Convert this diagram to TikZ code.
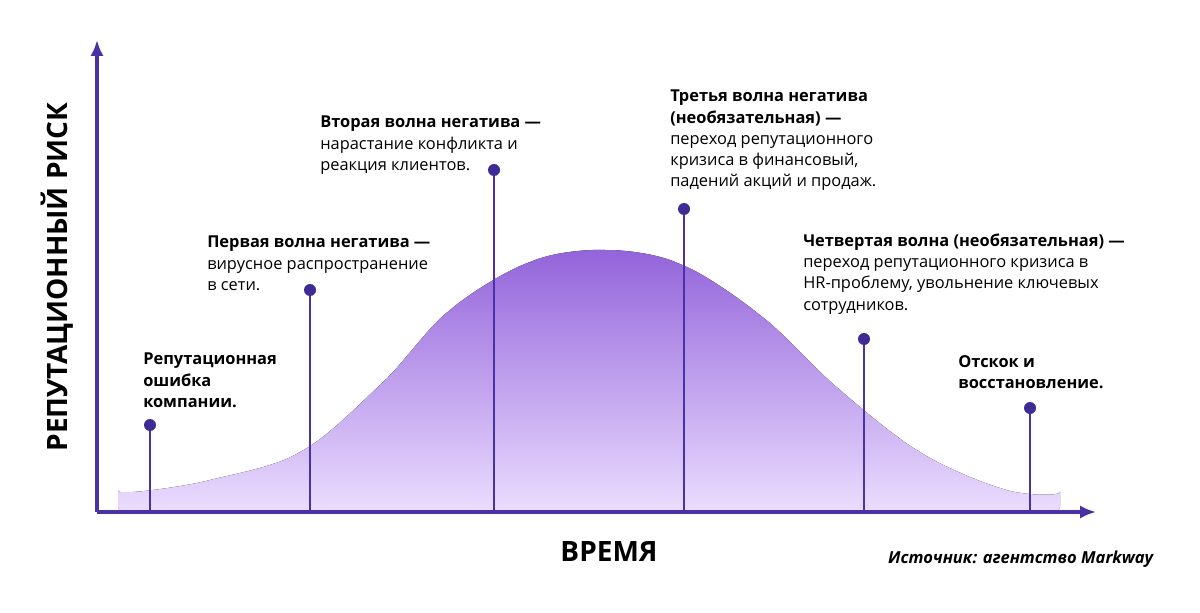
\documentclass[tikz,border=0pt]{standalone}
\usepackage{fontspec}
\usetikzlibrary{arrows.meta}
\setmainfont{Open Sans}
\definecolor{ax}{HTML}{4A32A6}
\definecolor{dotc}{HTML}{3F2A96}
\definecolor{ctop}{HTML}{9364DA}
\definecolor{cbot}{HTML}{EBDDFF}
\begin{document}
\begin{tikzpicture}[x=0.75pt,y=-0.75pt,
  lbl/.style={anchor=north west,align=left,inner sep=0pt,font=\fontsize{12.3}{15.8}\selectfont,text=black},
  stem/.style={draw=ax,line width=2pt},
  dotn/.style={circle,fill=dotc,inner sep=0pt,minimum size=9pt}]
\useasboundingbox (0,0) rectangle (1200,613);
\fill[top color=ctop,bottom color=cbot,rounded corners=4pt]
  plot[smooth,tension=0.55] coordinates {(118,496) (210,480) (300,452) (380,385) (450,310) (530,262) (605,250) (680,264) (760,315) (840,390) (920,452) (1000,488) (1060,497)}
  -- (1060,512) -- (118,512) -- cycle;
\coordinate (o) at (97,512);
\coordinate (ytop) at (97,40);
\coordinate (xend) at (1096,512);
\draw[ax,line width=2.6pt,-{Latex[length=12pt,width=10pt]}] (o) -- (ytop);
\draw[ax,line width=2.6pt,-{Latex[length=12pt,width=10pt]}] (o) -- (xend);
\foreach \i/\x/\y in {1/150/425,2/310/290,3/494/170,4/684/209,5/864/339,6/1030/408}{
  \coordinate (b\i) at (\x,512);
  \node[dotn] (d\i) at (\x,\y) {};
  \draw[stem] (b\i) -- (d\i);
}
\node[lbl] (t1) at (143,353) {\textbf{Репутационная}\\\textbf{ошибка}\\\textbf{компании.}};
\node[lbl] (t2) at (207,236) {\textbf{Первая волна негатива —}\\вирусное распространение\\в сети.};
\node[lbl] (t3) at (320,116) {\textbf{Вторая волна негатива —}\\нарастание конфликта и\\реакция клиентов.};
\node[lbl] (t4) at (670,90) {\textbf{Третья волна негатива}\\\textbf{(необязательная) —}\\переход репутационного\\кризиса в финансовый,\\падений акций и продаж.};
\node[lbl] (t5) at (803,234) {\textbf{Четвертая волна (необязательная) —}\\переход репутационного кризиса в\\HR-проблему, увольнение ключевых\\сотрудников.};
\node[lbl] (t6) at (958,355) {\textbf{Отскок и}\\\textbf{восстановление.}};
\node[rotate=90,font=\fontsize{21}{24}\selectfont\bfseries] (yl) at (57,277) {РЕПУТАЦИОННЫЙ РИСК};
\node[font=\fontsize{21}{24}\selectfont\bfseries] (xl) at (609,552) {ВРЕМЯ};
\node[anchor=east,font=\fontsize{12.4}{14}\selectfont\itshape\bfseries] (src) at (1158,559) {Источник: агентство Markway};
\end{tikzpicture}
\end{document}
